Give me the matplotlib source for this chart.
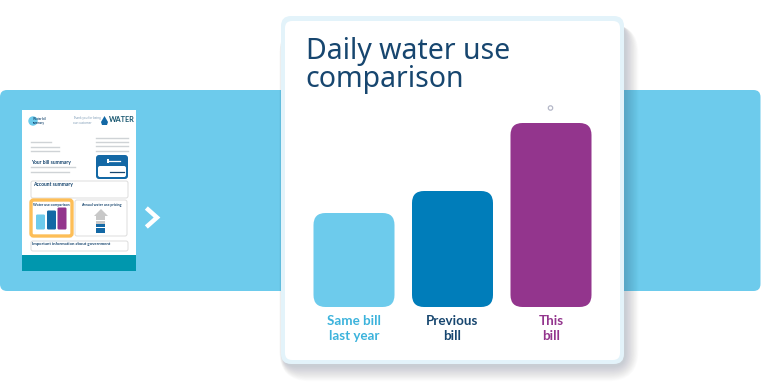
import matplotlib.pyplot as plt
from matplotlib.patches import FancyBboxPatch, Rectangle, Polygon, Circle

categories = ["Same bill\nlast year", "Previous\nbill", "This\nbill"]
values = [94, 116, 184]
bar_colors = ["#6dcbec", "#007dba", "#93358d"]
label_colors = ["#3cb3dc", "#17466f", "#93358d"]

thumb_values = [15, 19, 22]
thumb_colors = ["#6dcbec", "#1368a5", "#93358d"]

W, H = 761, 382
plt.rcParams["font.family"] = ["Noto Sans", "DejaVu Sans"]
BOLD = ["Lato", "DejaVu Sans"]

fig = plt.figure(figsize=(W / 100, H / 100), dpi=100)
bg = fig.add_axes([0, 0, 1, 1])
bg.set_xlim(0, W)
bg.set_ylim(H, 0)
bg.axis("off")


def rbox(x0, y0, x1, y1, r, fc, ec="none", lw=0, alpha=None, z=1):
    p = FancyBboxPatch((x0 + r, y0 + r), x1 - x0 - 2 * r, y1 - y0 - 2 * r,
                       boxstyle="round,pad=%f,rounding_size=%f" % (r, r),
                       fc=fc, ec=ec, lw=lw, alpha=alpha, zorder=z)
    bg.add_patch(p)
    return p


# blue band
rbox(0, 90, 760.5, 291, 7, "#6dcbec", z=1)

# document thumbnail
bg.add_patch(Rectangle((22, 110), 114, 161, fc="white", zorder=2))
bg.add_patch(Rectangle((22, 255), 114, 16, fc="#0097ae", zorder=3))
bg.add_patch(Circle((33, 121), 4.7, fc="#6dcbec", zorder=3))
bg.text(33, 121, "Water bill\nsummary", fontsize=2.2, family=BOLD, fontweight="bold", color="#17466f", ha="left", va="center", zorder=4)
bg.text(73, 120.5, "Thank you for being\nour customer", fontsize=2.1, color="#7c9ab5", va="center", zorder=3)
bg.text(108.5, 120, "WATER", fontsize=5.2, family=BOLD, color="#17566f", fontweight="bold", va="center", zorder=3)
bg.add_patch(Polygon([(102, 125), (107, 125), (108, 122), (104.5, 116), (101, 122)], fc="#1368a5", zorder=3))
for x0, x1, y in [(96, 128, 138), (96, 128, 142), (96, 128, 146), (96, 128, 150.5),
                  (31, 51, 142), (31, 59, 146.5), (31, 59, 151),
                  (31, 75, 167), (31, 69, 172)]:
    bg.plot([x0, x1], [y, y], color="#cfd3d6", lw=1, zorder=3)
bg.text(31, 162.5, "Your bill summary", fontsize=3.6, family=BOLD, fontweight="bold", color="#17466f", va="center", zorder=3)
rbox(96, 155, 128, 179, 3, "#1368a5", z=3)
rbox(98, 166, 126, 177, 2, "white", z=4)
bg.plot([110, 124], [172, 172], color="#17466f", lw=0.9, zorder=5)
bg.plot([108, 120], [161, 161], color="white", lw=0.9, zorder=5)
bg.add_patch(Rectangle((107, 159), 1.6, 3.5, fc="white", zorder=5))
rbox(31, 181, 128, 198, 2, "white", ec="#dddddd", lw=0.7, z=3)
bg.text(33, 184.5, "Account summary", fontsize=3.6, family=BOLD, fontweight="bold", color="#17466f", va="center", zorder=4)

rbox(31, 200, 72, 236, 2.5, "white", ec="#fdbe57", lw=2.4, z=3)
bg.text(51.5, 205, "Water use comparison", fontsize=2.6, family=BOLD, fontweight="bold", color="#17466f", ha="center", va="center", zorder=4)
for x, v, c in zip([36, 47, 57.5], thumb_values, thumb_colors):
    rbox(x, 229.5 - v, x + 9, 229.5, 1.3, c, z=4)

rbox(75, 200, 127, 236, 2, "white", ec="#dddddd", lw=0.7, z=3)
bg.text(101, 205, "Annual water use pricing", fontsize=2.6, family=BOLD, fontweight="bold", color="#17466f", ha="center", va="center", zorder=4)
bg.add_patch(Polygon([(101, 209), (108, 216), (105, 216), (105, 220), (96, 220), (96, 216), (94, 216)], fc="#c8c8c8", zorder=4))
bg.add_patch(Rectangle((96, 221), 9, 3, fc="#c8c8c8", zorder=4))
bg.add_patch(Rectangle((96, 224), 9, 2.5, fc="#1368a5", zorder=4))
bg.add_patch(Rectangle((96, 228), 9, 5, fc="#1368a5", zorder=4))

rbox(31, 241, 128, 251, 2, "white", ec="#dddddd", lw=0.7, z=3)
bg.text(32, 244, "Important information about government", fontsize=3.1, family=BOLD, fontweight="bold", color="#17466f", va="center", zorder=4)

# chevron
bg.plot([148, 157, 148], [209.5, 217.5, 225.5], color="white", lw=3.2, solid_joinstyle="miter", zorder=3)

# card shadow, then card
for i in range(18, 0, -1):
    rbox(283 - i * 0.2, 24, 625 + i * 0.75, 366 + i * 0.85, 12 + i, "#123040", alpha=0.013, z=5)
rbox(281, 16, 624, 364, 10, "#e3f3fa", z=6)
rbox(285, 21, 620, 360, 7, "white", z=7)

bg.text(305.5, 51.5, "Daily water use", fontsize=20.5, color="#17466f", va="center", zorder=8)
bg.text(305, 80, "comparison", fontsize=20.5, color="#17466f", va="center", zorder=8)

# the chart itself
ax = fig.add_axes([300 / W, 1 - 307 / H, 305 / W, 207 / H], zorder=5)
ax.patch.set_alpha(0)
ax.set_xlim(300, 605)
ax.set_ylim(0, 207)
ax.axis("off")
centers = [354, 452.5, 551]
bars = ax.bar(centers, values, width=81, color=bar_colors)
for b in bars:
    x, w, h = b.get_x(), b.get_width(), b.get_height()
    r = 12
    b.set_visible(False)
    ax.add_patch(FancyBboxPatch((x + r, r), w - 2 * r, h - 2 * r,
                                boxstyle="round,pad=%f,rounding_size=%f" % (r, r),
                                fc=b.get_facecolor(), ec="none"))
for c, cat, col in zip(centers, categories, label_colors):
    ax.annotate(cat, (c, 0), xytext=(0, -8), textcoords="offset pixels", ha="center", va="top",
                fontsize=9.6, family=BOLD, fontweight="bold", color=col, linespacing=1.3, annotation_clip=False)

# small marker above the tallest bar
bg.add_patch(Circle((550.5, 108), 2.2, fc="white", ec="#b5b8c8", lw=0.9, zorder=8))

fig.savefig("out.png", dpi=100)
